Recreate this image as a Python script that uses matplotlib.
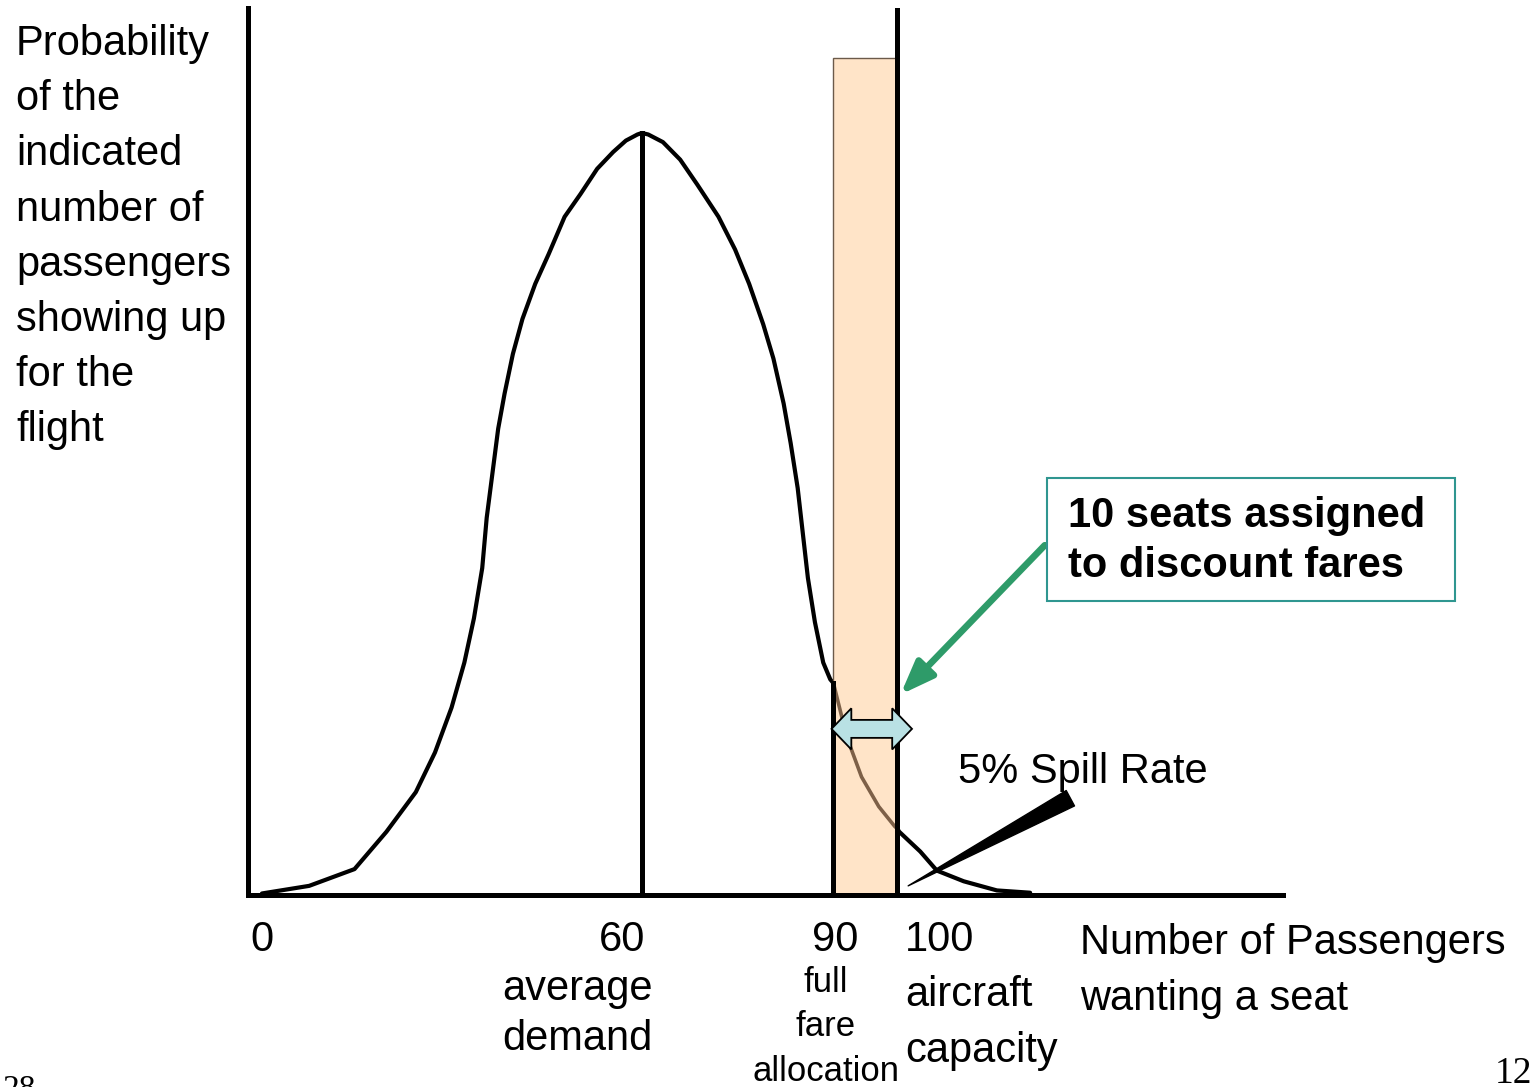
import numpy as np
import matplotlib
matplotlib.use("Agg")
import matplotlib.pyplot as plt
from matplotlib.patches import Rectangle, Polygon, FancyArrowPatch

plt.rcParams["font.family"] = ["Liberation Sans", "DejaVu Sans"]

# demand distribution (relative probability, peak = 1)
passengers = [0.5, 7.9, 15.0, 20.0, 24.6, 27.6, 30.2, 32.2, 33.7, 35.0, 35.7,
              36.5, 37.5, 38.5, 39.8, 41.3, 43.3, 45.4, 47.9, 50.4, 53.0, 55.5,
              57.5, 59.3, 60.0, 61.0, 63.3, 66.0, 68.7, 72.0, 74.6, 76.8, 79.0,
              80.6, 82.2, 83.3, 84.4, 85.2, 86.0, 87.1, 88.4, 89.5, 90.0, 92.1,
              94.4, 97.1, 99.6, 100.0, 100.3, 103.6, 106.2, 110.4, 115.6, 120.8]
probability = [0.002, 0.012, 0.034, 0.083, 0.135, 0.187, 0.246, 0.305, 0.363,
               0.429, 0.495, 0.547, 0.612, 0.658, 0.710, 0.756, 0.802, 0.841,
               0.890, 0.920, 0.953, 0.975, 0.990, 0.998, 1.0, 0.998, 0.988,
               0.965, 0.932, 0.890, 0.847, 0.802, 0.749, 0.704, 0.645, 0.593,
               0.534, 0.475, 0.416, 0.358, 0.305, 0.283, 0.278, 0.207, 0.155,
               0.116, 0.090, 0.087, 0.083, 0.057, 0.032, 0.018, 0.006, 0.003]

avg_demand = 60
full_fare = 90
capacity = 100
tick_values = ["0", "60", "90", "100"]

W, H = 1530, 1087
def fx(px):
    return px / W
def fy(py):
    return 1 - py / H

fig = plt.figure(figsize=(W / 100, H / 100), dpi=100)
ax = fig.add_axes([fx(248), fy(895), (1283 - 248) / W, (895 - 8) / H])
ax.set_xlim(-1.68, 160.4)
ax.set_ylim(0, 1.164)
for s in ["top", "right"]:
    ax.spines[s].set_visible(False)
for s in ["left", "bottom"]:
    ax.spines[s].set_linewidth(3.6)
    ax.spines[s].set_zorder(8)
ax.set_xticks([])
ax.set_yticks([])

# curve
ax.plot(passengers, probability, color="black", lw=3.0, zorder=2,
        solid_capstyle="round", solid_joinstyle="round")

# discount band between full fare allocation and capacity
band = Rectangle((full_fare, 0), capacity - full_fare, 1.098, facecolor="#FFE4C8",
                 edgecolor="#6b5a4a", lw=1.0, zorder=3)
ax.add_patch(band)
inner, = ax.plot(passengers, probability, color="#7d6048", lw=2.6, zorder=4,
                 solid_joinstyle="round")
inner.set_clip_path(band)

# vertical markers
peak = max(probability)
y90 = probability[passengers.index(full_fare)]
ax.plot([avg_demand, avg_demand], [0, peak], color="black", lw=3.6, zorder=5)
ax.plot([full_fare, full_fare], [0, y90], color="black", lw=3.6, zorder=5)
ax.plot([capacity, capacity], [0, 1.164], color="black", lw=3.6, zorder=5)

# double-headed block arrow spanning the band
yc, hh, sh, hl = 0.218, 0.027, 0.0118, 3.1
xl, xr = full_fare - 0.3, capacity + 2.3
pts = [(xl, yc), (xl + hl, yc + hh), (xl + hl, yc + sh), (xr - hl, yc + sh),
       (xr - hl, yc + hh), (xr, yc), (xr - hl, yc - hh), (xr - hl, yc - sh),
       (xl + hl, yc - sh), (xl + hl, yc - hh)]
ax.add_patch(Polygon(pts, closed=True, facecolor="#B9E1E4", edgecolor="black",
                     lw=1.3, zorder=6))

# green arrow from the note to the capacity line
ax.add_patch(FancyArrowPatch((123.1, 0.459), (capacity + 0.5, 0.263),
                             arrowstyle="-|>,head_length=1.0,head_width=0.38",
                             mutation_scale=20, color="#2E9B69", lw=4.8,
                             shrinkA=0, shrinkB=0, zorder=7))

# spill rate brush stroke
ax.add_patch(FancyArrowPatch((127.1, 0.127), (101.7, 0.012),
                             arrowstyle="wedge,tail_width=0.42,shrink_factor=0.5",
                             mutation_scale=30, color="black", lw=1,
                             shrinkA=0, shrinkB=0, zorder=7))

# note box
fig.patches.append(Rectangle((fx(1047), fy(601)), (1455 - 1047) / W, (601 - 478) / H,
                             transform=fig.transFigure, facecolor="white",
                             edgecolor="#2F9690", lw=1.5, zorder=1))
fig.text(fx(1068), fy(541), "10 seats assigned\nto discount fares", fontsize=30,
         fontweight="bold", ha="left", va="center", linespacing=1.31)

# labels
fig.text(fx(16), fy(24), "Probability\nof the\nindicated\nnumber of\npassengers\n"
         "showing up\nfor the\nflight", fontsize=30, ha="left", va="top",
         linespacing=1.49)

tick_px = [262, 622, 835, 940]
for lab, px in zip(tick_values, tick_px):
    fig.text(fx(px), fy(940), lab, fontsize=30, ha="center", va="center")

fig.text(fx(577), fy(1014), "average\ndemand", fontsize=30, ha="center",
         va="center", linespacing=1.35)
fig.text(fx(826), fy(1027), "full\nfare\nallocation", fontsize=25, ha="center",
         va="center", linespacing=1.44)
fig.text(fx(905), fy(1023), "aircraft\ncapacity", fontsize=30, ha="left",
         va="center", linespacing=1.49)
fig.text(fx(1080), fy(971), "Number of Passengers\nwanting a seat", fontsize=30,
         ha="left", va="center", linespacing=1.49)
fig.text(fx(958), fy(772), "5% Spill Rate", fontsize=30, ha="left", va="center")

# slide page numbers
fig.text(fx(2), fy(1098), "28", fontsize=24, family="Liberation Serif",
         ha="left", va="baseline")
fig.text(fx(1495), fy(1083), "12", fontsize=27, family="Liberation Serif",
         ha="left", va="baseline")

fig.savefig("out.png", dpi=100, facecolor="white")
